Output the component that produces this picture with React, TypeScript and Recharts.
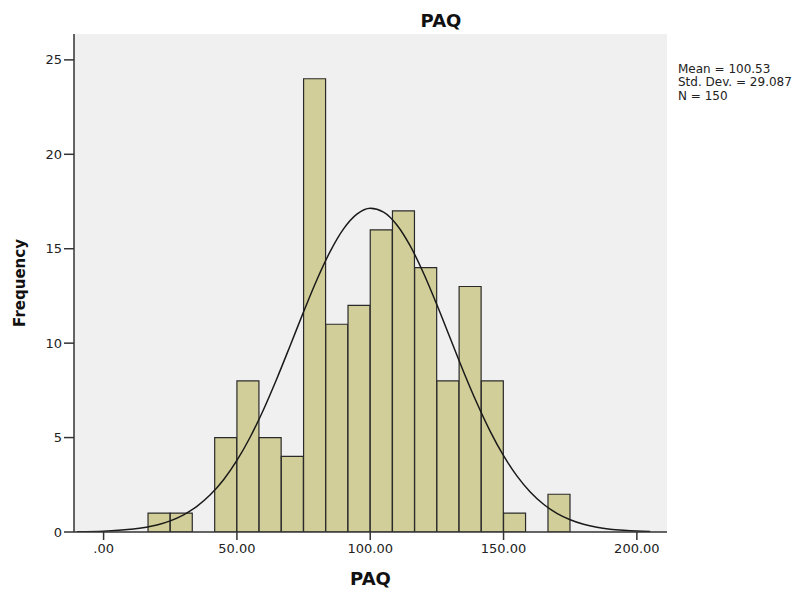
import { ComposedChart, Bar, Line, XAxis, YAxis, CartesianGrid } from 'recharts';

// Histogram bins (bin centres, width 8.33)
const BIN_MIDS = [20.83, 29.17, 37.5, 45.83, 54.17, 62.5, 70.83, 79.17, 87.5, 95.83, 104.17, 112.5, 120.83, 129.17, 137.5, 145.83, 154.17, 162.5, 170.83];
const COUNTS = [1, 1, 0, 5, 8, 5, 4, 24, 11, 12, 16, 17, 14, 8, 13, 8, 1, 0, 2];

// Normal curve
const CURVE_X = [-10, 0, 10, 20, 25, 30, 35, 40, 45, 50, 55, 60, 65, 70, 75, 80, 85, 90, 95, 100, 105, 110, 115, 120, 125, 130, 135, 140, 145, 150, 155, 160, 165, 170, 175, 180, 185, 190, 195, 200, 205];
const CURVE_Y = [0.01, 0.04, 0.14, 0.37, 0.59, 0.91, 1.36, 1.97, 2.77, 3.79, 5.03, 6.49, 8.13, 9.88, 11.66, 13.36, 14.86, 16.05, 16.83, 17.14, 16.94, 16.26, 15.15, 13.7, 12.03, 10.26, 8.49, 6.83, 5.33, 4.04, 2.97, 2.12, 1.47, 0.99, 0.65, 0.41, 0.25, 0.15, 0.09, 0.05, 0.03];

const X_TICKS = [0, 50, 100, 150, 200];
const X_TICK_LABELS = ['.00', '50.00', '100.00', '150.00', '200.00'];
const Y_TICKS = [0, 5, 10, 15, 20, 25];
const STATS = ['Mean = 100.53', 'Std. Dev. = 29.087', 'N = 150'];

const X_MIN = -11.1;
const X_MAX = 211.3;
const Y_MAX = 26.37;

const W = 804;
const H = 592;
const MARGIN = { top: 34, right: 137, bottom: 0, left: 8 };
const Y_AXIS_W = 66;

const FONT = "'DejaVu Sans', sans-serif";

export default function App() {
    const binData = BIN_MIDS.map((x, i) => ({ x, count: COUNTS[i] }));
    const curveData = CURVE_X.map((x, i) => ({ x, y: CURVE_Y[i] }));

    return (
        <div style={{ position: 'absolute', left: 0, top: 0, width: W, height: H, background: '#fff', fontFamily: FONT }}>
            <ComposedChart width={W} height={H} data={binData} margin={MARGIN} barCategoryGap={0} barGap={0}>
                <CartesianGrid fill="#F0F0F0" horizontal={false} vertical={false} />
                <XAxis
                    dataKey="x"
                    type="number"
                    domain={[X_MIN, X_MAX]}
                    allowDataOverflow
                    ticks={X_TICKS}
                    tickFormatter={(v) => X_TICK_LABELS[X_TICKS.indexOf(v)] ?? String(v)}
                    height={60}
                    tickSize={8}
                    tickMargin={4}
                    axisLine={{ stroke: '#333', strokeWidth: 1.5 }}
                    tickLine={{ stroke: '#333', strokeWidth: 1.5 }}
                    tick={{ fill: '#222', fontSize: 13, fontFamily: FONT }}
                    label={{ value: 'PAQ', position: 'insideBottom', offset: 7, style: { fontSize: 18, fontWeight: 'bold', fill: '#111', fontFamily: FONT } }}
                />
                {/* hidden axis for the bins so bar width comes from the bin spacing only */}
                <XAxis xAxisId="bins" dataKey="x" type="number" domain={[X_MIN, X_MAX]} allowDataOverflow hide />
                <XAxis
                    xAxisId="top"
                    orientation="top"
                    type="number"
                    domain={[X_MIN, X_MAX]}
                    allowDataOverflow
                    height={0}
                    tick={false}
                    tickLine={false}
                    axisLine={{ stroke: '#666', strokeWidth: 1.5 }}
                />
                <YAxis
                    type="number"
                    domain={[0, Y_MAX]}
                    allowDataOverflow
                    ticks={Y_TICKS}
                    width={Y_AXIS_W}
                    tickSize={10}
                    tickMargin={2}
                    axisLine={{ stroke: '#333', strokeWidth: 1.5 }}
                    tickLine={{ stroke: '#333', strokeWidth: 1.5 }}
                    tick={{ fill: '#222', fontSize: 13, fontFamily: FONT }}
                    label={{ value: 'Frequency', angle: -90, position: 'insideLeft', offset: 12, style: { textAnchor: 'middle', fontSize: 15, fontWeight: 'bold', fill: '#111', fontFamily: FONT } }}
                />
                <YAxis
                    yAxisId="right"
                    orientation="right"
                    domain={[0, Y_MAX]}
                    width={0}
                    tick={false}
                    tickLine={false}
                    axisLine={{ stroke: '#666', strokeWidth: 1.5 }}
                />
                <Bar
                    xAxisId="bins"
                    dataKey="count"
                    fill="#D2CE99"
                    stroke="#2a2a2a"
                    strokeWidth={1.2}
                    isAnimationActive={false}
                />
                <Line
                    data={curveData}
                    dataKey="y"
                    type="monotone"
                    stroke="#1a1a1a"
                    strokeWidth={1.5}
                    dot={false}
                    activeDot={false}
                    isAnimationActive={false}
                />
            </ComposedChart>
            <div style={{ position: 'absolute', left: 441, top: 12, transform: 'translateX(-50%)', fontSize: 18, lineHeight: '18px', fontWeight: 'bold', color: '#111' }}>
                PAQ
            </div>
            <div style={{ position: 'absolute', left: 678, top: 63, fontSize: 12, lineHeight: '13.4px', color: '#222', whiteSpace: 'nowrap' }}>
                {STATS.map((s) => (
                    <div key={s}>{s}</div>
                ))}
            </div>
        </div>
    );
}
